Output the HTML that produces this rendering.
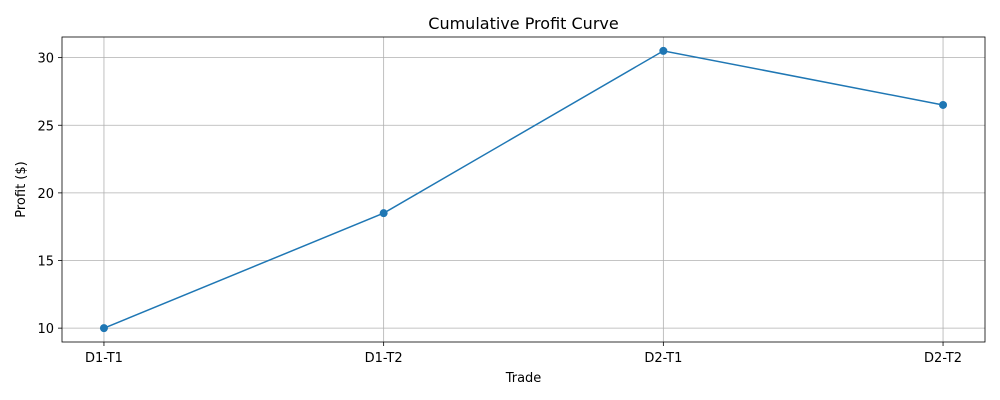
<!DOCTYPE html>
<html><head><meta charset="utf-8"><style>
html,body{margin:0;padding:0;background:#fff;}
svg{display:block;font-family:"DejaVu Sans","Liberation Sans",sans-serif;}
</style></head><body>
<svg id="chart" width="1000" height="400"></svg>
<script>
const categories = ["D1-T1","D1-T2","D2-T1","D2-T2"];
const profitValues = [10, 18.5, 30.5, 26.5];
const yTickValues = [10, 15, 20, 25, 30];

const svg = document.getElementById('chart');
const NS = 'http://www.w3.org/2000/svg';
const L = 62, R = 985, T = 37, B = 342;
const yMin = Math.min(...profitValues), yMax = Math.max(...profitValues);
const pad = (yMax - yMin) * 0.05;
const y0 = yMin - pad, y1 = yMax + pad;
const xPad = (categories.length - 1) * 0.05;
function xScale(i){ return L + (i + xPad) / (categories.length - 1 + 2 * xPad) * (R - L); }
function yScale(v){ return B - (v - y0) / (y1 - y0) * (B - T); }
function mk(tag, attrs, parent){
  const e = document.createElementNS(NS, tag);
  for (const k in attrs) e.setAttribute(k, attrs[k]);
  (parent || svg).appendChild(e);
  return e;
}
categories.forEach((c, i) => {
  const x = xScale(i);
  const g = mk('line', {x1:x, x2:x, y1:T, y2:B, stroke:'#b0b0b0', 'stroke-width':0.8});
  
  
  mk('line', {x1:x, x2:x, y1:B, y2:B+4, stroke:'#000', 'stroke-width':0.8});
  const t = mk('text', {x:x, y:B+20, 'text-anchor':'middle', 'font-size':13, fill:'#000'});
  t.textContent = c;
  
  
});
yTickValues.forEach(v => {
  const y = yScale(v);
  const g = mk('line', {x1:L, x2:R, y1:y, y2:y, stroke:'#b0b0b0', 'stroke-width':0.8});
  
  
  mk('line', {x1:L-4, x2:L, y1:y, y2:y, stroke:'#000', 'stroke-width':0.8});
  const t = mk('text', {x:L-8, y:y+5, 'text-anchor':'end', 'font-size':13, fill:'#000'});
  t.textContent = v;
  
  
});
const pts = profitValues.map((v, i) => xScale(i) + ',' + yScale(v)).join(' ');
const line = mk('polyline', {points:pts, fill:'none', stroke:'#1f77b4', 'stroke-width':1.5});


profitValues.forEach((v, i) => {
  const c = mk('circle', {cx:xScale(i), cy:yScale(v), r:4, fill:'#1f77b4'});
  
  
});
const f = mk('rect', {x:L, y:T, width:R-L, height:B-T, fill:'none', stroke:'#000', 'stroke-width':0.8});


const title = mk('text', {x:(L+R)/2, y:29, 'text-anchor':'middle', 'font-size':16, fill:'#000'});
title.textContent = 'Cumulative Profit Curve';


const xl = mk('text', {x:(L+R)/2, y:382, 'text-anchor':'middle', 'font-size':13, fill:'#000'});
xl.textContent = 'Trade';


const yl = mk('text', {x:25, y:(T+B)/2, 'text-anchor':'middle', 'font-size':13, fill:'#000', transform:'rotate(-90 25 ' + ((T+B)/2) + ')'});
yl.textContent = 'Profit ($)';


</script>
</body></html>
